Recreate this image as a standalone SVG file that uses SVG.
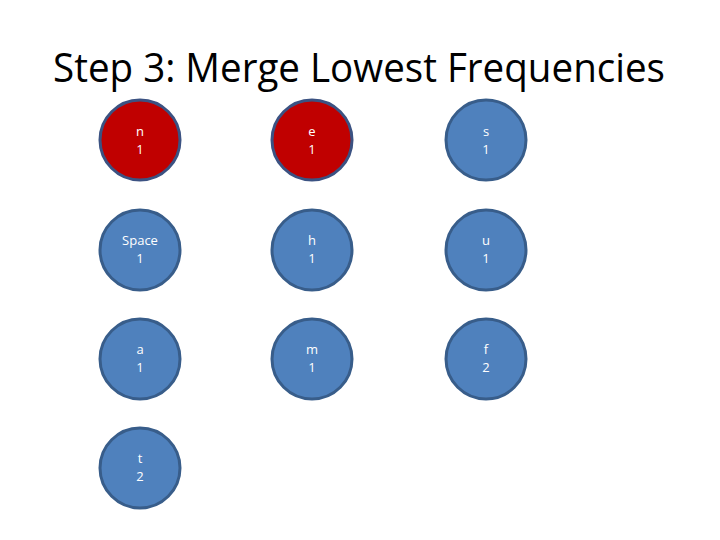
<svg xmlns="http://www.w3.org/2000/svg" width="720" height="540" viewBox="0 0 720 540">
<style>
.title{font-family:"Open Sans","Liberation Sans",sans-serif;font-size:40px;fill:#000}
.node circle{stroke-width:3}
.blue circle{fill:#4F81BD;stroke:#385D8A}
.red circle{fill:#C00000;stroke:#3B5282}
.node text{font-family:"Open Sans","Liberation Sans",sans-serif;font-size:13px;fill:#fff;text-anchor:middle}
</style>
<rect width="720" height="540" fill="#fff"/>
<text class="title" x="359" y="82" text-anchor="middle" textLength="612" lengthAdjust="spacingAndGlyphs">Step 3: Merge Lowest Frequencies</text>
<g id="connectors"></g>
<g id="node-n" class="node red"><circle cx="140" cy="140" r="40"/><text x="140" y="136">n</text><text x="140" y="154">1</text></g>
<g id="node-e" class="node red"><circle cx="312" cy="140" r="40"/><text x="312" y="136">e</text><text x="312" y="154">1</text></g>
<g id="node-s" class="node blue"><circle cx="486" cy="140" r="40"/><text x="486" y="136">s</text><text x="486" y="154">1</text></g>
<g id="node-space" class="node blue"><circle cx="140" cy="250" r="40"/><text x="140" y="245">Space</text><text x="140" y="263">1</text></g>
<g id="node-h" class="node blue"><circle cx="312" cy="250" r="40"/><text x="312" y="245">h</text><text x="312" y="263">1</text></g>
<g id="node-u" class="node blue"><circle cx="486" cy="250" r="40"/><text x="486" y="245">u</text><text x="486" y="263">1</text></g>
<g id="node-a" class="node blue"><circle cx="140" cy="359" r="40"/><text x="140" y="354">a</text><text x="140" y="372">1</text></g>
<g id="node-m" class="node blue"><circle cx="312" cy="359" r="40"/><text x="312" y="354">m</text><text x="312" y="372">1</text></g>
<g id="node-f" class="node blue"><circle cx="486" cy="359" r="40"/><text x="486" y="354">f</text><text x="486" y="372">2</text></g>
<g id="node-t" class="node blue"><circle cx="140" cy="468" r="40"/><text x="140" y="463">t</text><text x="140" y="481">2</text></g>
</svg>
